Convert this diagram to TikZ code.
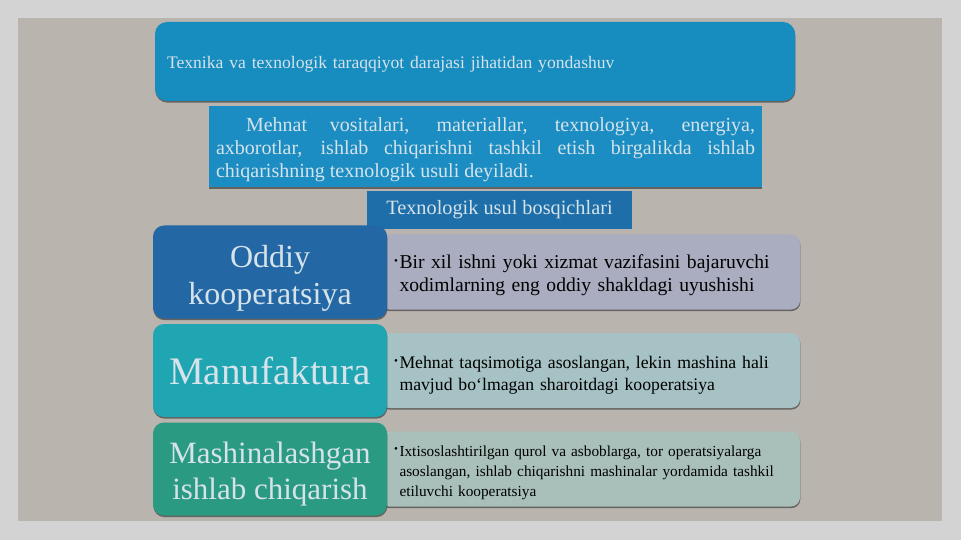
\documentclass[tikz,border=0pt]{standalone}
\usepackage{fontspec}
\setmainfont{Liberation Serif}
\usetikzlibrary{shadows}

\definecolor{slidebg}{HTML}{D3D3D3}
\definecolor{panelbg}{HTML}{B9B4AE}
\definecolor{headblue}{HTML}{178CBF}
\definecolor{descblue}{HTML}{1B8DC3}
\definecolor{stepblue}{HTML}{1E6FA9}
\definecolor{oddiyblue}{HTML}{2467A5}
\definecolor{oddiygray}{HTML}{A9ADBF}
\definecolor{manuteal}{HTML}{20A6B3}
\definecolor{manugray}{HTML}{A6C2C4}
\definecolor{mashgreen}{HTML}{2A9B82}
\definecolor{mashgray}{HTML}{A9C0BA}
\definecolor{lighttext}{HTML}{D6E3EA}

% bullet with hanging lines; optional height of the first row
\newcommand{\bul}[2][0pt]{\makebox[5.5pt][l]{\raisebox{0.45ex}{\fontsize{11}{11}\selectfont\textbullet}}\begin{tabular}[t]{@{}l@{}}\rule{0pt}{#1}#2\end{tabular}}

\begin{document}
\begin{tikzpicture}[
	x=1pt,
	y=-1pt,
	shade/.style={
		drop shadow={shadow xshift=0.4pt, shadow yshift=-1.6pt, fill=black, opacity=0.45}
	},
	header/.style={
		rectangle,
		rounded corners=12pt,
		fill=headblue,
		shade,
		text=lighttext,
		align=left,
		text width=616pt,
		inner xsep=12pt,
		minimum height=79pt,
		font=\fontsize{17.6}{21}\selectfont
	},
	desc/.style={
		rectangle,
		fill=descblue,
		shade,
		text=lighttext,
		align=justify,
		text width=539pt,
		inner xsep=7pt,
		minimum height=81pt,
		font=\fontsize{20}{23}\selectfont
	},
	stepbox/.style={
		rectangle,
		fill=stepblue,
		text=lighttext,
		align=center,
		minimum width=265pt,
		minimum height=38pt,
		font=\fontsize{20.3}{23}\selectfont
	},
	stage/.style={
		rectangle,
		rounded corners=11pt,
		shade,
		text=lighttext,
		align=center,
		minimum width=234pt,
		minimum height=93pt
	},
	itembox/.style={
		rectangle,
		rounded corners=9pt,
		shade,
		text=black,
		align=left,
		text width=392pt,
		inner xsep=14pt,
		minimum height=75pt
	},
]

% slide background
\fill[slidebg] (0,0) rectangle (961,540);
\fill[panelbg] (18,18) rectangle (942,521);

\node[header] (head) at (475,61.5) {\rule{0pt}{18pt}Texnika va texnologik taraqqiyot darajasi jihatidan yondashuv};

\node[desc] (def) at (485.5,146.5) {\hyphenpenalty=10000\rule{0pt}{20pt}\hspace*{30pt}Mehnat vositalari, materiallar, texnologiya, energiya,\linebreak axborotlar, ishlab chiqarishni tashkil etish birgalikda ishlab\linebreak chiqarishning texnologik usuli deyiladi.};

\node[stepbox] (steps) at (499.5,210) {Texnologik usul bosqichlari};

% stages
\node[itembox, fill=oddiygray, font=\fontsize{19.6}{23}\selectfont] (oddiyR) at (590,272)
	{\bul[23pt]{Bir xil ishni yoki xizmat vazifasini bajaruvchi\\xodimlarning eng oddiy shakldagi uyushishi}};
\node[stage, fill=oddiyblue, font=\fontsize{32}{37}\selectfont] (oddiy) at (270,272) {\rule{0pt}{34pt}Oddiy\\kooperatsiya};

\node[itembox, fill=manugray, font=\fontsize{17.7}{22}\selectfont] (manuR) at (590,370.5)
	{\bul[24.5pt]{Mehnat taqsimotiga asoslangan, lekin mashina hali\\mavjud bo‘lmagan sharoitdagi kooperatsiya}};
\node[stage, fill=manuteal, font=\fontsize{39}{44}\selectfont] (manu) at (270,370.5) {Manufaktura};

\node[itembox, fill=mashgray, font=\fontsize{15.3}{20}\selectfont] (mashR) at (590,469)
	{\bul[20pt]{Ixtisoslashtirilgan qurol va asboblarga, tor operatsiyalarga\\asoslangan, ishlab chiqarishni mashinalar yordamida tashkil\\etiluvchi kooperatsiya}};
\node[stage, fill=mashgreen, font=\fontsize{31}{36}\selectfont] (mash) at (270,469) {\rule{0pt}{31pt}Mashinalashgan\\ishlab chiqarish};

\end{tikzpicture}
\end{document}
